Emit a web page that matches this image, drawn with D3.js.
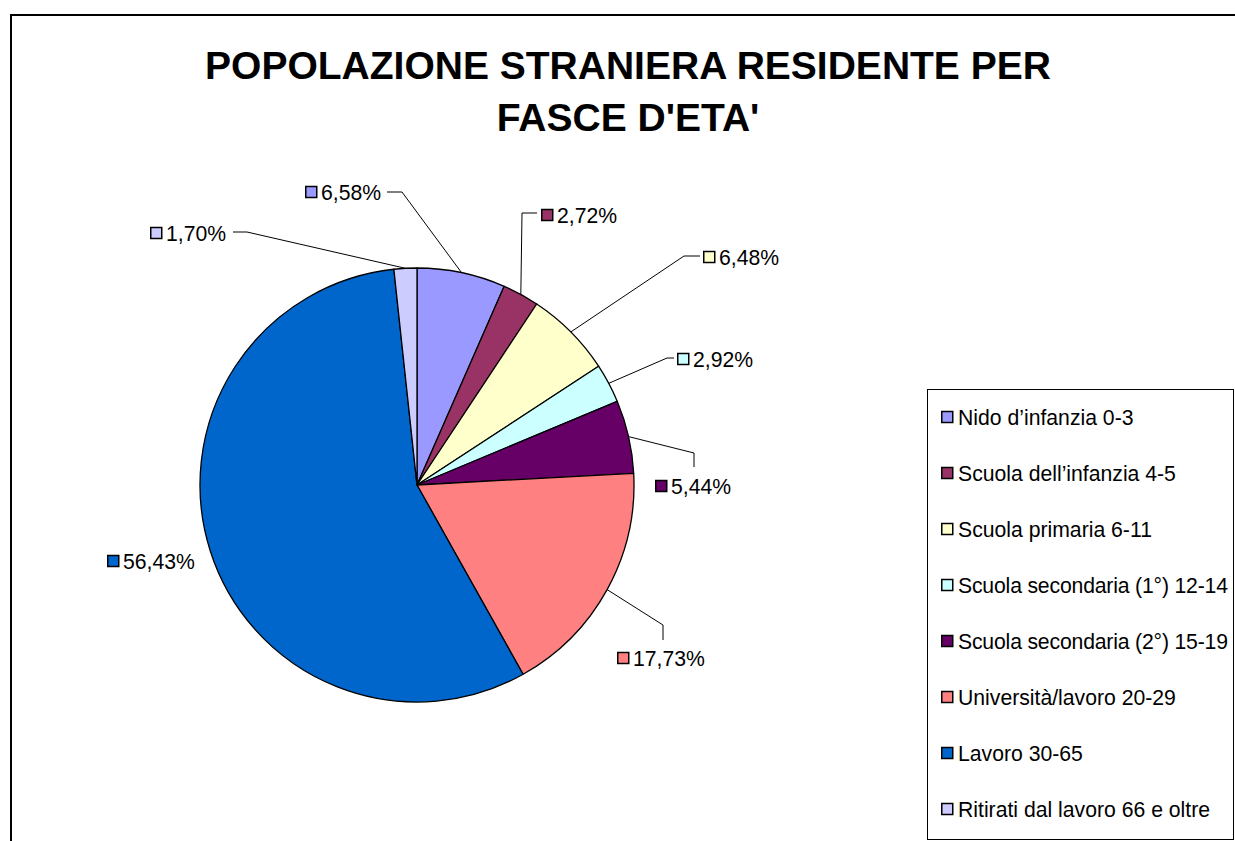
<!DOCTYPE html>
<html>
<head>
<meta charset="utf-8">
<script src="https://cdn.jsdelivr.net/npm/d3@7"></script>
<style>
  html, body { margin: 0; padding: 0; background: #fff; }
  svg { display: block; font-family: "Liberation Sans", Arial, sans-serif; }
</style>
</head>
<body>
<svg id="chart" width="1235" height="841"></svg>
<script>
// ---- Data ----
const categories = [
  "Nido d\u2019infanzia 0-3",
  "Scuola dell\u2019infanzia 4-5",
  "Scuola primaria 6-11",
  "Scuola secondaria (1\u00b0) 12-14",
  "Scuola secondaria (2\u00b0) 15-19",
  "Universit\u00e0/lavoro 20-29",
  "Lavoro 30-65",
  "Ritirati dal lavoro 66 e oltre"
];
const values = [6.58, 2.72, 6.48, 2.92, 5.44, 17.73, 56.43, 1.70];
const colors = ["#9999FF", "#993366", "#FFFFCC", "#CCFFFF", "#660066", "#FF8080", "#0066CC", "#CCCCFF"];
const titleLines = ["POPOLAZIONE STRANIERA RESIDENTE PER", "FASCE D'ETA'"];

// ---- Layout (label placement, pixels) ----
const center = { x: 417, y: 485 };
const radius = 217;
// marker left x, marker centre y, leader elbow and end points (null = no leader)
const labelLayout = [
  { mx: 305, my: 192, leader: [[402, 192], [387, 192]] },
  { mx: 541, my: 215, leader: [[522, 213], [537, 213]] },
  { mx: 703, my: 257, leader: [[684, 256], [700, 256]] },
  { mx: 677, my: 359, leader: [[667, 358], [674, 358]] },
  { mx: 655, my: 486, leader: [[694, 453], [694, 467]] },
  { mx: 617, my: 658, leader: [[663, 625], [663, 640]] },
  { mx: 107, my: 561, leader: null },
  { mx: 150, my: 233, leader: [[247, 232], [233, 232]] }
];

const svg = d3.select("#chart");

// outer chart border
svg.append("rect")
  .attr("x", 11).attr("y", 15)
  .attr("width", 1300).attr("height", 900)
  .attr("fill", "#fff")
  .attr("stroke", "#000").attr("stroke-width", 2);

// title
svg.append("g").selectAll("text")
  .data(titleLines).join("text")
  .attr("x", 628)
  .attr("y", (d, i) => 79 + i * 52)
  .attr("text-anchor", "middle")
  .attr("font-size", 39)
  .attr("font-weight", "bold")
  .attr("fill", "#000")
  .text(d => d);

// pie
const pie = d3.pie().sort(null).value(d => d);
const arcs = pie(values);
const arc = d3.arc().innerRadius(0).outerRadius(radius);
const g = svg.append("g").attr("transform", `translate(${center.x},${center.y})`);
g.selectAll("path")
  .data(arcs).join("path")
  .attr("d", arc)
  .attr("fill", (d, i) => colors[i])
  .attr("stroke", "#000")
  .attr("stroke-width", 1.3)
  .attr("stroke-linejoin", "round");

// leader lines
const fmt = v => d3.format(".2f")(v).replace(".", ",") + "%";
const lineGen = d3.line();
arcs.forEach((a, i) => {
  const L = labelLayout[i];
  if (!L.leader) return;
  const mid = (a.startAngle + a.endAngle) / 2;
  const p0 = [center.x + radius * Math.sin(mid), center.y - radius * Math.cos(mid)];
  svg.append("path")
    .attr("d", lineGen([p0, ...L.leader]))
    .attr("fill", "none")
    .attr("stroke", "#000")
    .attr("stroke-width", 1);
});

// data labels
const lbl = svg.append("g").selectAll("g")
  .data(arcs).join("g");
lbl.append("rect")
  .attr("x", (d, i) => labelLayout[i].mx + 0.75)
  .attr("y", (d, i) => labelLayout[i].my - 5.5)
  .attr("width", 11).attr("height", 11)
  .attr("fill", (d, i) => colors[i])
  .attr("stroke", "#000").attr("stroke-width", 1.5);
lbl.append("text")
  .attr("x", (d, i) => labelLayout[i].mx + 16)
  .attr("y", (d, i) => labelLayout[i].my + 7.5)
  .attr("font-size", 21.2)
  .attr("fill", "#000")
  .text(d => fmt(d.data));

// legend
svg.append("rect")
  .attr("x", 927.5).attr("y", 389.5)
  .attr("width", 306).attr("height", 450)
  .attr("fill", "#fff")
  .attr("stroke", "#000").attr("stroke-width", 1);
const leg = svg.append("g").selectAll("g")
  .data(categories).join("g")
  .attr("transform", (d, i) => `translate(941, ${417 + i * 56})`);
leg.append("rect")
  .attr("x", 0.75).attr("y", -5.5)
  .attr("width", 11).attr("height", 11)
  .attr("fill", (d, i) => colors[i])
  .attr("stroke", "#000").attr("stroke-width", 1.5);
leg.append("text")
  .attr("x", 17).attr("y", 7.5)
  .attr("font-size", 21.2)
  .attr("fill", "#000")
  .text(d => d)
  .each(function (d) {
    if (d.includes("\u00b0")) {
      d3.select(this).attr("textLength", 270).attr("lengthAdjust", "spacing");
    }
  });
</script>
</body>
</html>
